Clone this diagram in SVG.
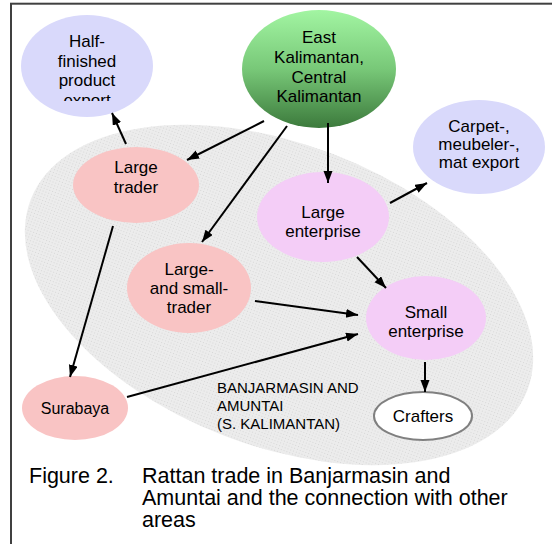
<svg xmlns="http://www.w3.org/2000/svg" width="552" height="544" viewBox="0 0 552 544">
<defs>
  <style>
    text { font-family: "Liberation Sans", Arial, sans-serif; fill: #000; }
    .n { font-size: 17px; text-anchor: middle; }
    .lbl { font-size: 15px; }
    .cap { font-size: 21.5px; }
    .lav { fill: #d9d9fb; }
    .pink { fill: #f9c4c4; }
    .ent { fill: #f4cdf7; }
    .conn line { stroke: #000; stroke-width: 2; marker-end: url(#ah); }
  </style>
  <marker id="ah" markerUnits="userSpaceOnUse" markerWidth="13" markerHeight="10" refX="12" refY="4.5" orient="auto">
    <path d="M0,0 L12,4.5 L0,9 z" fill="#000"/>
  </marker>
  <pattern id="dots" width="3" height="3" patternUnits="userSpaceOnUse">
    <rect width="3" height="3" fill="#ececec"/>
    <rect width="1" height="1" fill="#d7d7d7"/>
  </pattern>
  <linearGradient id="green" x1="0" y1="0" x2="0" y2="1">
    <stop offset="0" stop-color="#a2f5a2"/>
    <stop offset="0.5" stop-color="#78c878"/>
    <stop offset="1" stop-color="#3c7a3c"/>
  </linearGradient>
  <clipPath id="clipHalf">
    <rect x="0" y="0" width="200" height="101"/>
  </clipPath>
</defs>

<rect x="11" y="3.7" width="600" height="600" fill="#fff" stroke="#404040" stroke-width="2"/>

<g id="region">
  <ellipse cx="279" cy="295" rx="266" ry="151" transform="rotate(21 279 295)" fill="url(#dots)"/>
  <text class="lbl" x="217" y="393">BANJARMASIN AND</text>
  <text class="lbl" x="217" y="411">AMUNTAI</text>
  <text class="lbl" x="217" y="429">(S. KALIMANTAN)</text>
</g>

<g id="half-finished">
  <ellipse class="lav" cx="87" cy="66" rx="66" ry="51"/>
  <g clip-path="url(#clipHalf)">
    <text class="n" x="87" y="47">Half-</text>
    <text class="n" x="87" y="67">finished</text>
    <text class="n" x="87" y="86">product</text>
    <text class="n" x="87" y="106">export</text>
  </g>
</g>

<g id="east-kalimantan">
  <ellipse cx="319" cy="69" rx="77" ry="59" fill="url(#green)"/>
  <text class="n" x="319" y="43">East</text>
  <text class="n" x="319" y="63">Kalimantan,</text>
  <text class="n" x="319" y="83">Central</text>
  <text class="n" x="319" y="102">Kalimantan</text>
</g>

<g id="carpet-export">
  <ellipse class="lav" cx="479" cy="147" rx="66" ry="47"/>
  <text class="n" x="479" y="132">Carpet-,</text>
  <text class="n" x="479" y="150">meubeler-,</text>
  <text class="n" x="479" y="168">mat export</text>
</g>

<g id="large-trader">
  <ellipse class="pink" cx="136" cy="185" rx="63" ry="38"/>
  <text class="n" x="136" y="173">Large</text>
  <text class="n" x="136" y="193">trader</text>
</g>

<g id="large-enterprise">
  <ellipse class="ent" cx="323" cy="217" rx="66" ry="45"/>
  <text class="n" x="323" y="218">Large</text>
  <text class="n" x="323" y="237">enterprise</text>
</g>

<g id="large-small-trader">
  <ellipse class="pink" cx="189" cy="288" rx="62" ry="45"/>
  <text class="n" x="189" y="275">Large-</text>
  <text class="n" x="189" y="294">and small-</text>
  <text class="n" x="189" y="313">trader</text>
</g>

<g id="small-enterprise">
  <ellipse class="ent" cx="426" cy="318" rx="60" ry="42"/>
  <text class="n" x="426" y="318">Small</text>
  <text class="n" x="426" y="337">enterprise</text>
</g>

<g id="surabaya">
  <ellipse class="pink" cx="75" cy="408" rx="53" ry="32"/>
  <text class="n" x="75" y="414" style="font-size:16px">Surabaya</text>
</g>

<g id="crafters">
  <ellipse cx="423" cy="416" rx="49" ry="24" fill="#fff" stroke="#808080" stroke-width="2"/>
  <text class="n" x="423" y="422">Crafters</text>
</g>

<g id="connectors" class="conn">
  <line x1="126" y1="144" x2="112" y2="113"/>
  <line x1="264" y1="121" x2="187" y2="160"/>
  <line x1="287" y1="126" x2="202" y2="242"/>
  <line x1="328" y1="123" x2="328" y2="183"/>
  <line x1="390" y1="203" x2="427" y2="183"/>
  <line x1="357" y1="257" x2="386" y2="288"/>
  <line x1="255" y1="301" x2="358" y2="315"/>
  <line x1="127" y1="397" x2="358" y2="334"/>
  <line x1="113" y1="226" x2="70" y2="377"/>
  <line x1="425" y1="362" x2="425" y2="392"/>
</g>

<g id="caption">
  <text class="cap" x="29" y="483">Figure 2.</text>
  <text class="cap" x="142" y="483">Rattan trade in Banjarmasin and</text>
  <text class="cap" x="142" y="505">Amuntai and the connection with other</text>
  <text class="cap" x="142" y="527">areas</text>
</g>
</svg>
